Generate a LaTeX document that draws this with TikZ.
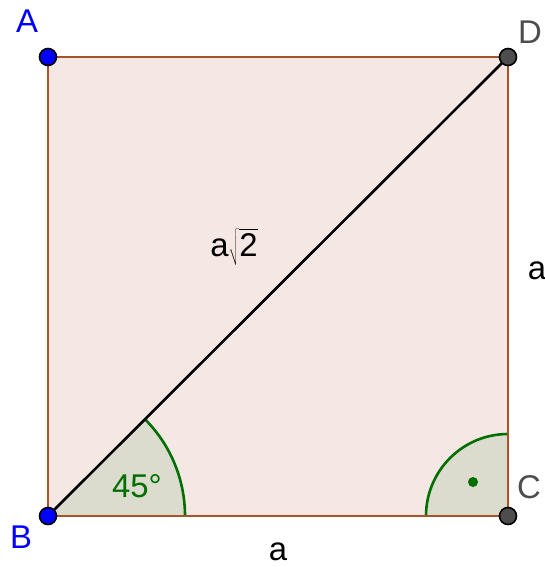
\documentclass[tikz,border=0pt]{standalone}
\usepackage{fontspec}
\setmainfont{Liberation Sans}
\usetikzlibrary{positioning}
\definecolor{sqfill}{RGB}{245,232,228}
\definecolor{sqedge}{RGB}{166,84,40}
\definecolor{angfill}{RGB}{219,220,206}
\definecolor{anggreen}{RGB}{0,110,0}
\definecolor{ptgray}{RGB}{77,77,77}
\definecolor{ptblue}{RGB}{0,0,255}
\tikzset{
  pt/.style={circle,draw=black,line width=1.6bp,inner sep=0pt,minimum size=17bp},
  lbl/.style={font=\fontsize{33}{40}\selectfont,inner sep=0pt},
  side/.style={draw=sqedge,line width=2.8bp},
  angarc/.style={draw=anggreen,line width=2.6bp}
}
\begin{document}
\begin{tikzpicture}[x=1bp,y=-1bp]
\useasboundingbox (0,0) rectangle (545,567);
\coordinate (A) at (48,57);
\coordinate (B) at (48,516);
\coordinate (C) at (508,516);
\coordinate (D) at (508,57);

\fill[sqfill] (A) -- (B) -- (C) -- (D) -- cycle;
\fill[angfill] (B) -- ++(137,0) arc[start angle=0,end angle=-45,radius=137] -- cycle;
\fill[angfill] (C) -- ++(-82,0) arc[start angle=180,end angle=270,radius=82] -- cycle;
\draw[angarc] (B) ++(137,0) arc[start angle=0,end angle=-45,radius=137];
\draw[angarc] (C) ++(-82,0) arc[start angle=180,end angle=270,radius=82];
\fill[anggreen] (473,482) circle (5);

\draw[side] (A) -- (B) -- (C) -- (D) -- cycle;
\draw[line width=2.6bp] (B) -- (D);

\node[pt,fill=ptblue] (pA) at (A) {};
\node[pt,fill=ptblue] (pB) at (B) {};
\node[pt,fill=ptgray] (pC) at (C) {};
\node[pt,fill=ptgray] (pD) at (D) {};

\node[lbl,text=ptblue] (lA) at (27,21) {A};
\node[lbl,text=ptblue] (lB) at (21,537) {B};
\node[lbl,text=ptgray] (lC) at (529,487) {C};
\node[lbl,text=ptgray] (lD) at (530,32) {D};
\node[lbl] (lBC) at (278,552) {a};
\node[lbl] (lCD) at (537,271) {a};
\node[lbl] (lBD) at (234,247) {a$\sqrt{\rule[-0.2em]{0pt}{0.95em}\mbox{2}}$};
\node[lbl,text=anggreen] (lang) at (137,486) {45°};
\end{tikzpicture}
\end{document}
